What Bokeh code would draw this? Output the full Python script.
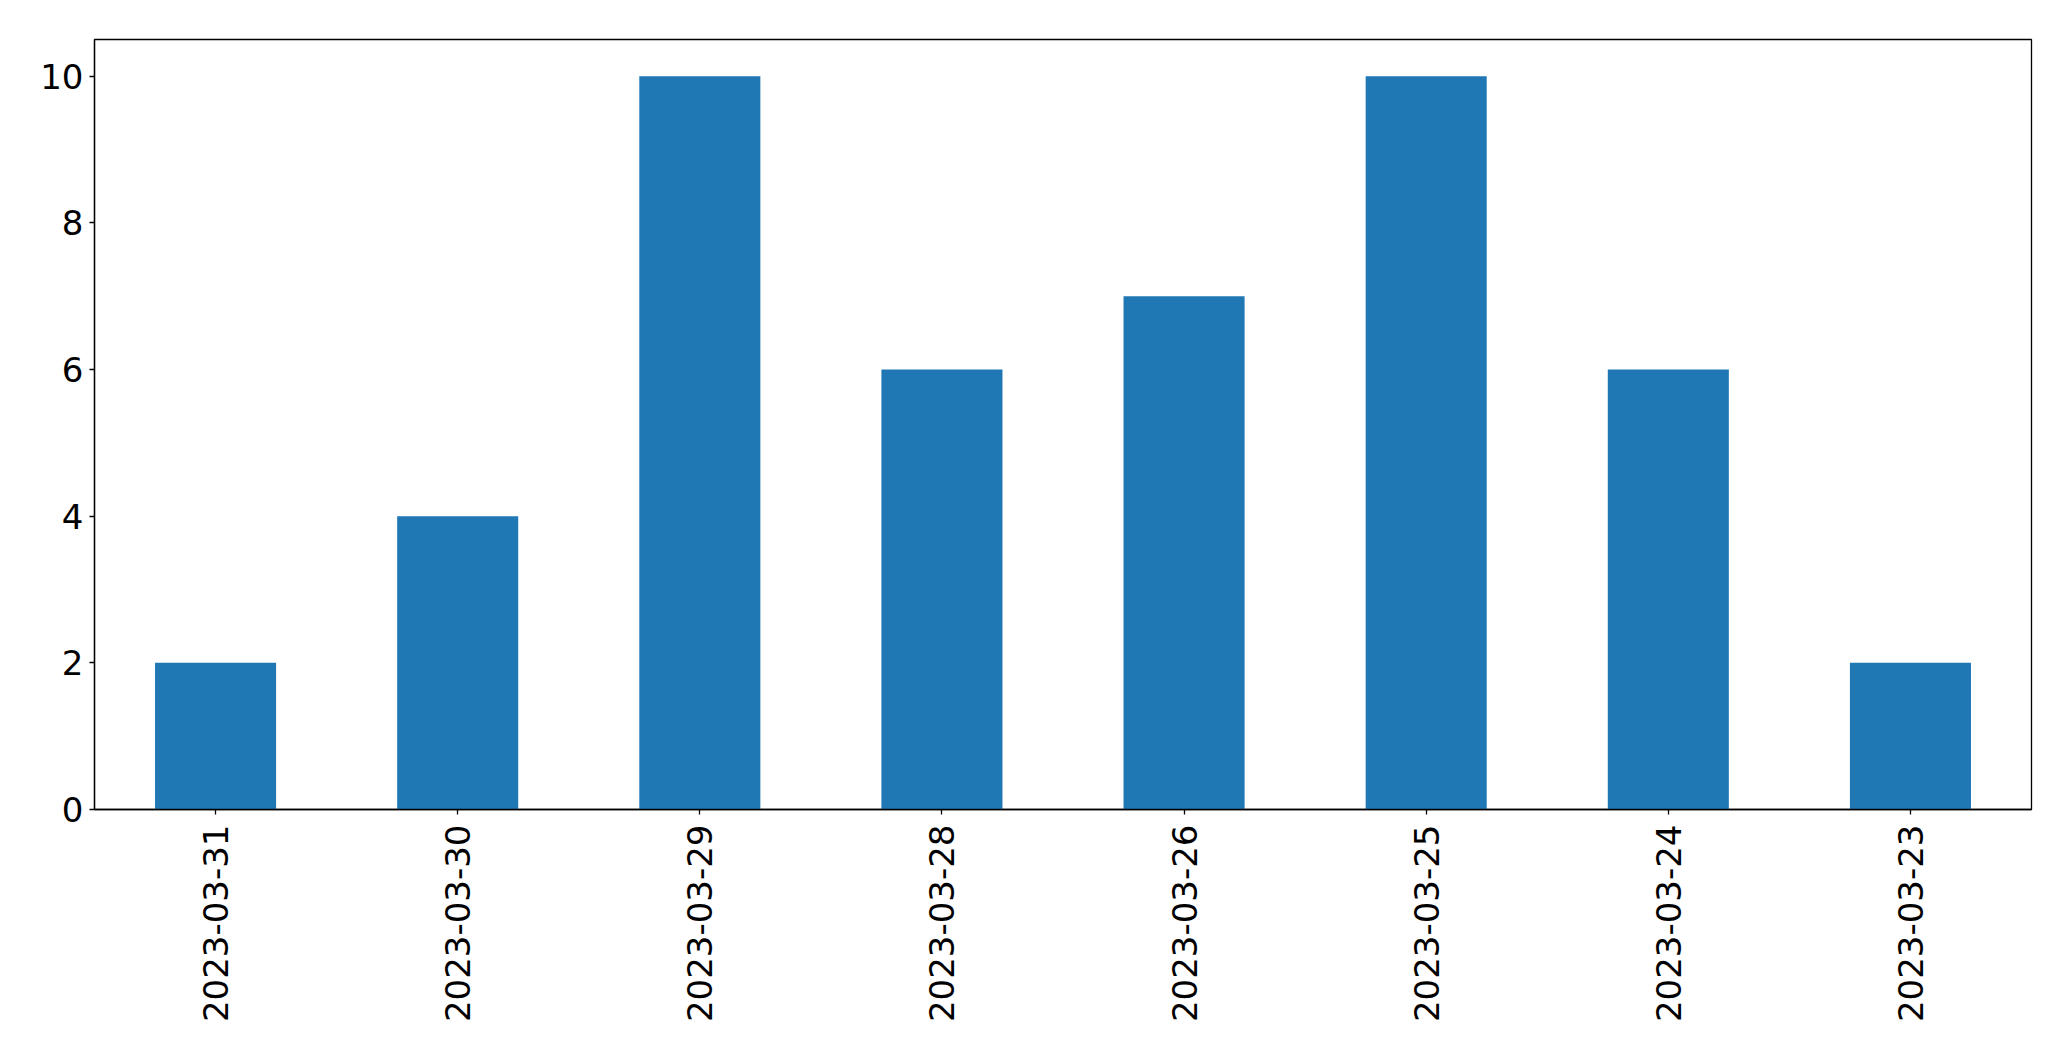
from bokeh.plotting import figure
from bokeh.models import FactorRange, Range1d, FixedTicker, ColumnDataSource
from bokeh.embed import file_html
from bokeh.resources import INLINE
import math

dates = ["2023-03-31", "2023-03-30", "2023-03-29", "2023-03-28",
         "2023-03-26", "2023-03-25", "2023-03-24", "2023-03-23"]
counts = [2, 4, 10, 6, 7, 10, 6, 2]
y_ticks = [0, 2, 4, 6, 8, 10]

src = ColumnDataSource(dict(x=dates, top=counts))

p = figure(x_range=FactorRange(*dates, range_padding=0), y_range=Range1d(0, 10.5),
           width=2071, height=1061, frame_width=1937, frame_height=770,
           min_border_left=94, min_border_top=39, min_border_right=40, min_border_bottom=252,
           output_backend="svg", toolbar_location=None)

p.vbar(x="x", top="top", width=0.5, source=src, fill_color="#1f77b4", line_color=None)

p.xgrid.visible = False
p.ygrid.visible = False
p.outline_line_color = "black"
p.outline_line_width = 1.3

for ax in (p.xaxis[0], p.yaxis[0]):
    ax.axis_line_color = "black"
    ax.axis_line_width = 1.3
    ax.major_tick_in = 0
    ax.major_tick_out = 5
    ax.major_tick_line_color = "black"
    ax.major_tick_line_width = 1.3
    ax.minor_tick_line_color = None
    ax.major_label_text_font = "DejaVu Sans"
    ax.major_label_text_font_size = "34px"
    ax.major_label_text_color = "black"

p.yaxis[0].ticker = FixedTicker(ticks=y_ticks)
p.yaxis[0].major_label_standoff = 6
p.xaxis[0].major_label_orientation = math.pi / 2
p.xaxis[0].major_label_standoff = 10

open("out.html", "w").write(file_html(p, INLINE))
